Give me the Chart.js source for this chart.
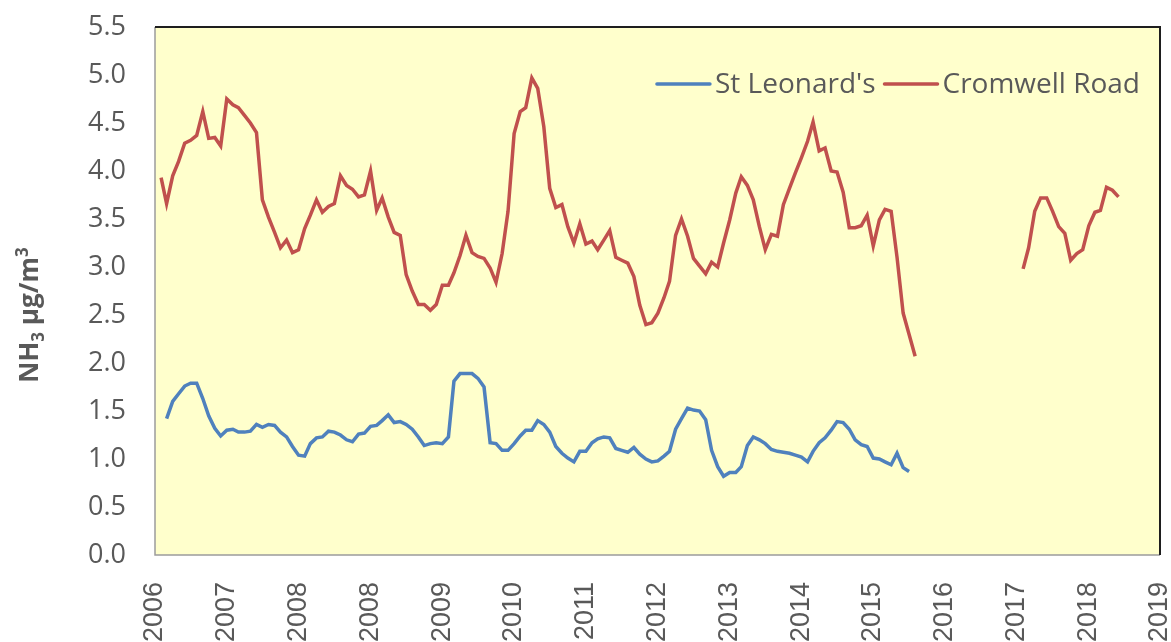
<!DOCTYPE html>
<html>
<head>
<meta charset="utf-8">
<title>NH3 - St Leonard's and Cromwell Road</title>
<script src="https://cdn.jsdelivr.net/npm/chart.js@4.4.0/dist/chart.umd.min.js"></script>
<style>
  html, body { margin: 0; padding: 0; background: #fff; overflow: hidden; }
  #wrap { width: 1171px; height: 642px; overflow: hidden; }
</style>
</head>
<body>
<div id="wrap"><canvas id="chart" width="1171" height="660"></canvas></div>
<script>
// x axis: days counted from 1 Jan 2006, one label every 365 days (Excel style)
const axisStartYear = 2006;
const labelStepDays = 365;
const labelCount = 15;

// y axis
const yMin = 0;
const yMax = 5.5;
const yStep = 0.5;
const yTitleParts = [["NH", "base"], ["3", "sub"], [" µg/m", "base"], ["3", "sup"]];

// monthly means, first value is the month given in *Start
const stLeonardsStart = "2006-03";
const stLeonards = [
  1.42, 1.60, 1.68, 1.76, 1.79, 1.79, 1.63, 1.45, 1.32, 1.24,
  1.30, 1.31, 1.28, 1.28, 1.29, 1.36, 1.33, 1.36, 1.35, 1.28,
  1.23, 1.13, 1.04, 1.03, 1.16, 1.22, 1.23, 1.29, 1.28, 1.25,
  1.20, 1.18, 1.26, 1.27, 1.34, 1.35, 1.40, 1.46, 1.38, 1.39,
  1.36, 1.31, 1.23, 1.14, 1.16, 1.17, 1.16, 1.23, 1.81, 1.89,
  1.89, 1.89, 1.84, 1.75, 1.17, 1.16, 1.09, 1.09, 1.16, 1.24,
  1.30, 1.30, 1.40,
  1.36, 1.28, 1.13, 1.06, 1.01, 0.97, 1.08, 1.08, 1.17, 1.21,
  1.23, 1.22, 1.11, 1.09, 1.07, 1.12, 1.05, 1.00, 0.97, 0.98,
  1.03, 1.08, 1.31, 1.42, 1.53, 1.51, 1.50, 1.41, 1.09, 0.92,
  0.82, 0.86, 0.86, 0.92, 1.14, 1.23, 1.20, 1.16, 1.10, 1.08,
  1.07, 1.06, 1.04, 1.02, 0.97, 1.08, 1.17, 1.22, 1.30, 1.39,
  1.38, 1.31, 1.20, 1.15, 1.13, 1.01, 1.00, 0.97, 0.94, 1.06,
  0.91, 0.87
];

const cromwellStart = "2006-02";
const cromwell = [
  3.93, 3.66, 3.95, 4.10, 4.29, 4.32, 4.37, 4.62, 4.34, 4.35,
  4.26, 4.75, 4.69, 4.66, 4.58, 4.50, 4.40, 3.70, 3.52, 3.36,
  3.20, 3.28, 3.15, 3.18, 3.40, 3.54, 3.70, 3.57, 3.63, 3.66,
  3.95, 3.85, 3.81, 3.73, 3.75, 4.00, 3.59, 3.72, 3.52, 3.36,
  3.33, 2.92, 2.75, 2.61, 2.61, 2.55, 2.61, 2.81, 2.81, 2.94,
  3.12, 3.33, 3.15, 3.11, 3.09, 2.99, 2.84, 3.14, 3.58, 4.39,
  4.62, 4.66, 4.97, 4.86,
  4.46, 3.82, 3.62, 3.65, 3.42, 3.25, 3.45, 3.24, 3.27, 3.18,
  3.28, 3.38, 3.10, 3.07, 3.04, 2.90, 2.60, 2.40, 2.42, 2.52,
  2.68, 2.85, 3.33, 3.50, 3.32, 3.09, 3.01, 2.93, 3.05, 3.00,
  3.25, 3.49, 3.77, 3.94, 3.85, 3.70, 3.42, 3.18, 3.34, 3.32,
  3.65, 3.82, 3.98, 4.14, 4.31, 4.51, 4.21, 4.24, 4.00, 3.99,
  3.78, 3.41, 3.41, 3.43, 3.54, 3.22, 3.49, 3.60, 3.58, 3.10,
  2.52, 2.30, 2.07
];

const cromwellRestart = "2018-02";
const cromwell2 = [
  2.98, 3.20, 3.58, 3.72, 3.72, 3.58, 3.42, 3.35, 3.07, 3.14,
  3.18, 3.43, 3.57, 3.59, 3.83, 3.80, 3.73
];

const DAY = 86400000;
const epoch = Date.UTC(axisStartYear, 0, 1);

function toPoints(start, values) {
  const [y, m] = start.split("-").map(Number);
  return values.map((v, i) => ({ x: (Date.UTC(y, m - 1 + i, 1) - epoch) / DAY, y: v }));
}

function yearOf(days) {
  return new Date(epoch + days * DAY).getUTCFullYear();
}

const cromwellPts = toPoints(cromwellStart, cromwell);
const cromwellPts2 = toPoints(cromwellRestart, cromwell2);
// break in the record
const gapPoint = { x: cromwellPts[cromwellPts.length - 1].x + 30, y: null };

const textGrey = "#595959";
const sansFont = "'Open Sans', 'Noto Sans', sans-serif";

// yellow plot area with Excel-like frame
const plotFrame = {
  id: "plotFrame",
  beforeDraw(chart) {
    const { ctx, chartArea: a } = chart;
    ctx.save();
    ctx.fillStyle = "#FFFFCC";
    ctx.fillRect(a.left, a.top, a.right - a.left, a.bottom - a.top);
    ctx.lineWidth = 1.5;
    ctx.strokeStyle = "#9c9c9c";
    ctx.beginPath();
    ctx.moveTo(a.left, a.top);
    ctx.lineTo(a.left, a.bottom);
    ctx.lineTo(a.right, a.bottom);
    ctx.stroke();
    ctx.lineWidth = 2;
    ctx.strokeStyle = "#1e1e1e";
    ctx.beginPath();
    ctx.moveTo(a.left, a.top);
    ctx.lineTo(a.right, a.top);
    ctx.lineTo(a.right, a.bottom);
    ctx.stroke();
    ctx.restore();
  }
};

// legend drawn inside the plot, top right
const insideLegend = {
  id: "insideLegend",
  afterDatasetsDraw(chart) {
    const { ctx, chartArea: a } = chart;
    const sample = 53, gap = 5, itemGap = 9;
    ctx.save();
    ctx.font = "28px " + sansFont;
    ctx.textBaseline = "middle";
    const items = chart.data.datasets;
    let total = 0;
    items.forEach((ds, i) => {
      total += sample + gap + ctx.measureText(ds.label).width + (i ? itemGap : 0);
    });
    let x = a.right - 20 - total;
    const y = 84;
    items.forEach((ds, i) => {
      if (i) x += itemGap;
      ctx.strokeStyle = ds.borderColor;
      ctx.lineWidth = 3.5;
      ctx.lineCap = "round";
      ctx.beginPath();
      ctx.moveTo(x, y);
      ctx.lineTo(x + sample, y);
      ctx.stroke();
      x += sample + gap;
      ctx.fillStyle = textGrey;
      ctx.fillText(ds.label, x, y + 1);
      x += ctx.measureText(ds.label).width;
    });
    ctx.restore();
  }
};

// y axis title with sub- and superscript
const yTitle = {
  id: "yTitle",
  afterDraw(chart) {
    const { ctx, chartArea: a } = chart;
    const big = "bold 26px " + sansFont;
    const small = "bold 17px " + sansFont;
    ctx.save();
    ctx.translate(29, (a.top + a.bottom) / 2 + 24);
    ctx.rotate(-Math.PI / 2);
    ctx.fillStyle = textGrey;
    ctx.textBaseline = "alphabetic";
    let w = 0;
    yTitleParts.forEach(([t, kind]) => {
      ctx.font = kind === "base" ? big : small;
      w += ctx.measureText(t).width;
    });
    let x = -w / 2;
    yTitleParts.forEach(([t, kind]) => {
      ctx.font = kind === "base" ? big : small;
      const dy = kind === "sub" ? 6 : kind === "sup" ? -10 : 0;
      ctx.fillText(t, x, 9 + dy);
      x += ctx.measureText(t).width;
    });
    ctx.restore();
  }
};

const ctx = document.getElementById("chart").getContext("2d");

new Chart(ctx, {
  type: "line",
  data: {
    datasets: [
      {
        label: "St Leonard's",
        data: toPoints(stLeonardsStart, stLeonards),
        borderColor: "#4F81BD",
        borderWidth: 3.5,
        pointRadius: 0,
        tension: 0
      },
      {
        label: "Cromwell Road",
        data: cromwellPts.concat([gapPoint], cromwellPts2),
        borderColor: "#C0504D",
        borderWidth: 3.5,
        pointRadius: 0,
        tension: 0,
        spanGaps: false
      }
    ]
  },
  options: {
    responsive: false,
    animation: false,
    layout: { padding: { top: 27, right: 11, bottom: 0, left: 0 } },
    plugins: {
      legend: { display: false },
      tooltip: { enabled: false }
    },
    scales: {
      x: {
        type: "linear",
        min: 0,
        max: labelStepDays * (labelCount - 1),
        grid: { display: false, drawTicks: false },
        border: { display: false },
        ticks: {
          stepSize: labelStepDays,
          autoSkip: false,
          minRotation: 90,
          maxRotation: 90,
          padding: 27,
          color: textGrey,
          font: { family: "'Liberation Sans', Arial, sans-serif", size: 27 },
          callback: (v) => String(yearOf(v))
        },
        afterFit(scale) {
          scale.height = 105;
          scale.paddingLeft = 0;
          scale.paddingRight = 0;
        }
      },
      y: {
        min: yMin,
        max: yMax,
        grid: { display: false, drawTicks: false },
        border: { display: false },
        ticks: {
          stepSize: yStep,
          padding: 29,
          color: textGrey,
          font: { family: sansFont, size: 27 },
          callback: (v) => v.toFixed(1)
        },
        afterFit(scale) {
          scale.width = 155;
          scale.paddingTop = 0;
          scale.paddingBottom = 0;
        }
      }
    }
  },
  plugins: [plotFrame, insideLegend, yTitle]
});
</script>
</body>
</html>
